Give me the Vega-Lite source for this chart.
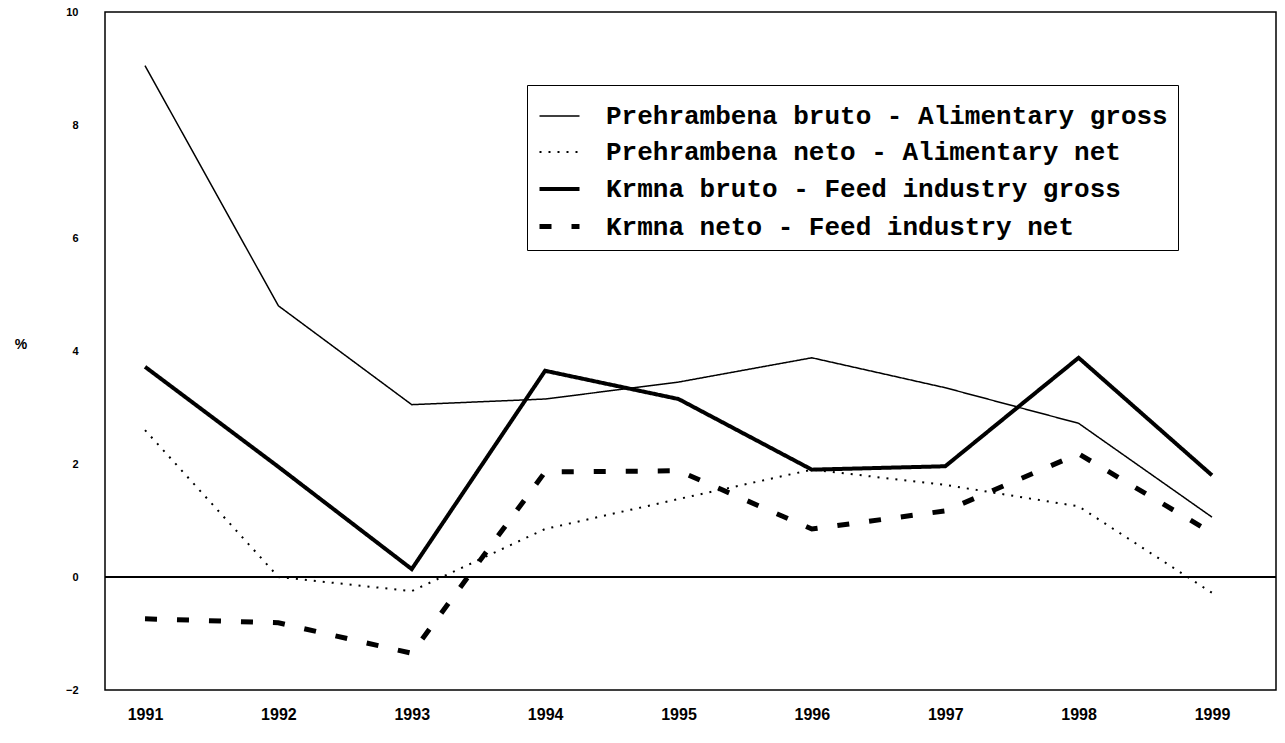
{
  "$schema": "https://vega.github.io/schema/vega-lite/v6.json",
  "width": 1171,
  "height": 678,
  "autosize": "none",
  "padding": {"left": 105, "top": 12, "right": 9, "bottom": 53},
  "background": "white",
  "config": {
    "view": {"stroke": "black", "strokeWidth": 1.5},
    "axis": {"grid": false, "domain": false, "ticks": false, "labelColor": "black", "titleColor": "black"}
  },
  "data": {
    "values": [
      {"year": 1991, "series": "Prehrambena bruto - Alimentary gross", "value": 9.05},
      {"year": 1992, "series": "Prehrambena bruto - Alimentary gross", "value": 4.8},
      {"year": 1993, "series": "Prehrambena bruto - Alimentary gross", "value": 3.05},
      {"year": 1994, "series": "Prehrambena bruto - Alimentary gross", "value": 3.15},
      {"year": 1995, "series": "Prehrambena bruto - Alimentary gross", "value": 3.45},
      {"year": 1996, "series": "Prehrambena bruto - Alimentary gross", "value": 3.88},
      {"year": 1997, "series": "Prehrambena bruto - Alimentary gross", "value": 3.35},
      {"year": 1998, "series": "Prehrambena bruto - Alimentary gross", "value": 2.72},
      {"year": 1999, "series": "Prehrambena bruto - Alimentary gross", "value": 1.06},
      {"year": 1991, "series": "Prehrambena neto  - Alimentary net", "value": 2.6},
      {"year": 1992, "series": "Prehrambena neto  - Alimentary net", "value": 0.0},
      {"year": 1993, "series": "Prehrambena neto  - Alimentary net", "value": -0.25},
      {"year": 1994, "series": "Prehrambena neto  - Alimentary net", "value": 0.85},
      {"year": 1995, "series": "Prehrambena neto  - Alimentary net", "value": 1.38},
      {"year": 1996, "series": "Prehrambena neto  - Alimentary net", "value": 1.9},
      {"year": 1997, "series": "Prehrambena neto  - Alimentary net", "value": 1.63},
      {"year": 1998, "series": "Prehrambena neto  - Alimentary net", "value": 1.25},
      {"year": 1999, "series": "Prehrambena neto  - Alimentary net", "value": -0.28},
      {"year": 1991, "series": "Krmna bruto - Feed industry gross", "value": 3.72},
      {"year": 1992, "series": "Krmna bruto - Feed industry gross", "value": 1.95},
      {"year": 1993, "series": "Krmna bruto - Feed industry gross", "value": 0.14},
      {"year": 1994, "series": "Krmna bruto - Feed industry gross", "value": 3.65},
      {"year": 1995, "series": "Krmna bruto - Feed industry gross", "value": 3.15},
      {"year": 1996, "series": "Krmna bruto - Feed industry gross", "value": 1.9},
      {"year": 1997, "series": "Krmna bruto - Feed industry gross", "value": 1.96},
      {"year": 1998, "series": "Krmna bruto - Feed industry gross", "value": 3.88},
      {"year": 1999, "series": "Krmna bruto - Feed industry gross", "value": 1.8},
      {"year": 1991, "series": "Krmna neto  - Feed industry net", "value": -0.74},
      {"year": 1992, "series": "Krmna neto  - Feed industry net", "value": -0.81},
      {"year": 1993, "series": "Krmna neto  - Feed industry net", "value": -1.35},
      {"year": 1994, "series": "Krmna neto  - Feed industry net", "value": 1.86},
      {"year": 1995, "series": "Krmna neto  - Feed industry net", "value": 1.88},
      {"year": 1996, "series": "Krmna neto  - Feed industry net", "value": 0.85},
      {"year": 1997, "series": "Krmna neto  - Feed industry net", "value": 1.17},
      {"year": 1998, "series": "Krmna neto  - Feed industry net", "value": 2.18},
      {"year": 1999, "series": "Krmna neto  - Feed industry net", "value": 0.78}
    ]
  },
  "layer": [
    {
      "mark": {"type": "rule", "color": "black", "strokeWidth": 1.5},
      "encoding": {"y": {"datum": 0, "type": "quantitative"}}
    },
    {
      "mark": {"type": "line", "color": "black", "strokeCap": "butt", "strokeJoin": "miter"},
      "encoding": {
        "x": {
          "field": "year", "type": "quantitative",
          "scale": {"domain": [1990.7, 1999.48], "nice": false, "zero": false},
          "axis": {"values": [1991,1992,1993,1994,1995,1996,1997,1998,1999], "format": "d", "title": null,
                   "labelFont": "Liberation Sans", "labelFontWeight": "bold", "labelFontSize": 16, "labelPadding": 16}
        },
        "y": {
          "field": "value", "type": "quantitative",
          "scale": {"domain": [-2, 10], "nice": false},
          "axis": {"values": [-2,0,2,4,6,8,10], "format": "d", "title": "%", "titleAngle": 0, "titleFontSize": 14, "titleFont": "Liberation Sans",
                   "titlePadding": 45, "labelFont": "Liberation Sans", "labelFontWeight": "bold", "labelFontSize": 11, "labelPadding": 27}
        },
        "detail": {"field": "series"},
        "strokeDash": {
          "field": "series", "type": "ordinal",
          "scale": {
            "type": "ordinal",
            "domain": ["Prehrambena bruto - Alimentary gross", "Prehrambena neto  - Alimentary net", "Krmna bruto - Feed industry gross", "Krmna neto  - Feed industry net"],
            "range": [[1, 0], [2, 7], [1, 0], [12, 20]]
          },
          "legend": {
            "title": null, "orient": "none", "legendX": 422, "legendY": 73,
            "symbolType": "stroke", "symbolSize": 1600, "symbolStrokeColor": "black",
            "labelFont": "Liberation Mono", "labelFontSize": 26, "labelFontWeight": "bold", "labelColor": "black",
            "labelLimit": 800, "labelOffset": 24, "rowPadding": 2,
            "strokeColor": "black", "padding": 10, "fillColor": "white"
          }
        },
        "strokeWidth": {
          "field": "series", "type": "ordinal",
          "scale": {
            "type": "ordinal",
            "domain": ["Prehrambena bruto - Alimentary gross", "Prehrambena neto  - Alimentary net", "Krmna bruto - Feed industry gross", "Krmna neto  - Feed industry net"],
            "range": [1.5, 2, 4, 5]
          },
          "legend": {
            "title": null, "orient": "none", "legendX": 422, "legendY": 73,
            "symbolType": "stroke", "symbolSize": 1600, "symbolStrokeColor": "black",
            "labelFont": "Liberation Mono", "labelFontSize": 26, "labelFontWeight": "bold", "labelColor": "black",
            "labelLimit": 800, "labelOffset": 24, "rowPadding": 2,
            "strokeColor": "black", "padding": 10, "fillColor": "white"
          }
        }
      }
    }
  ]
}
